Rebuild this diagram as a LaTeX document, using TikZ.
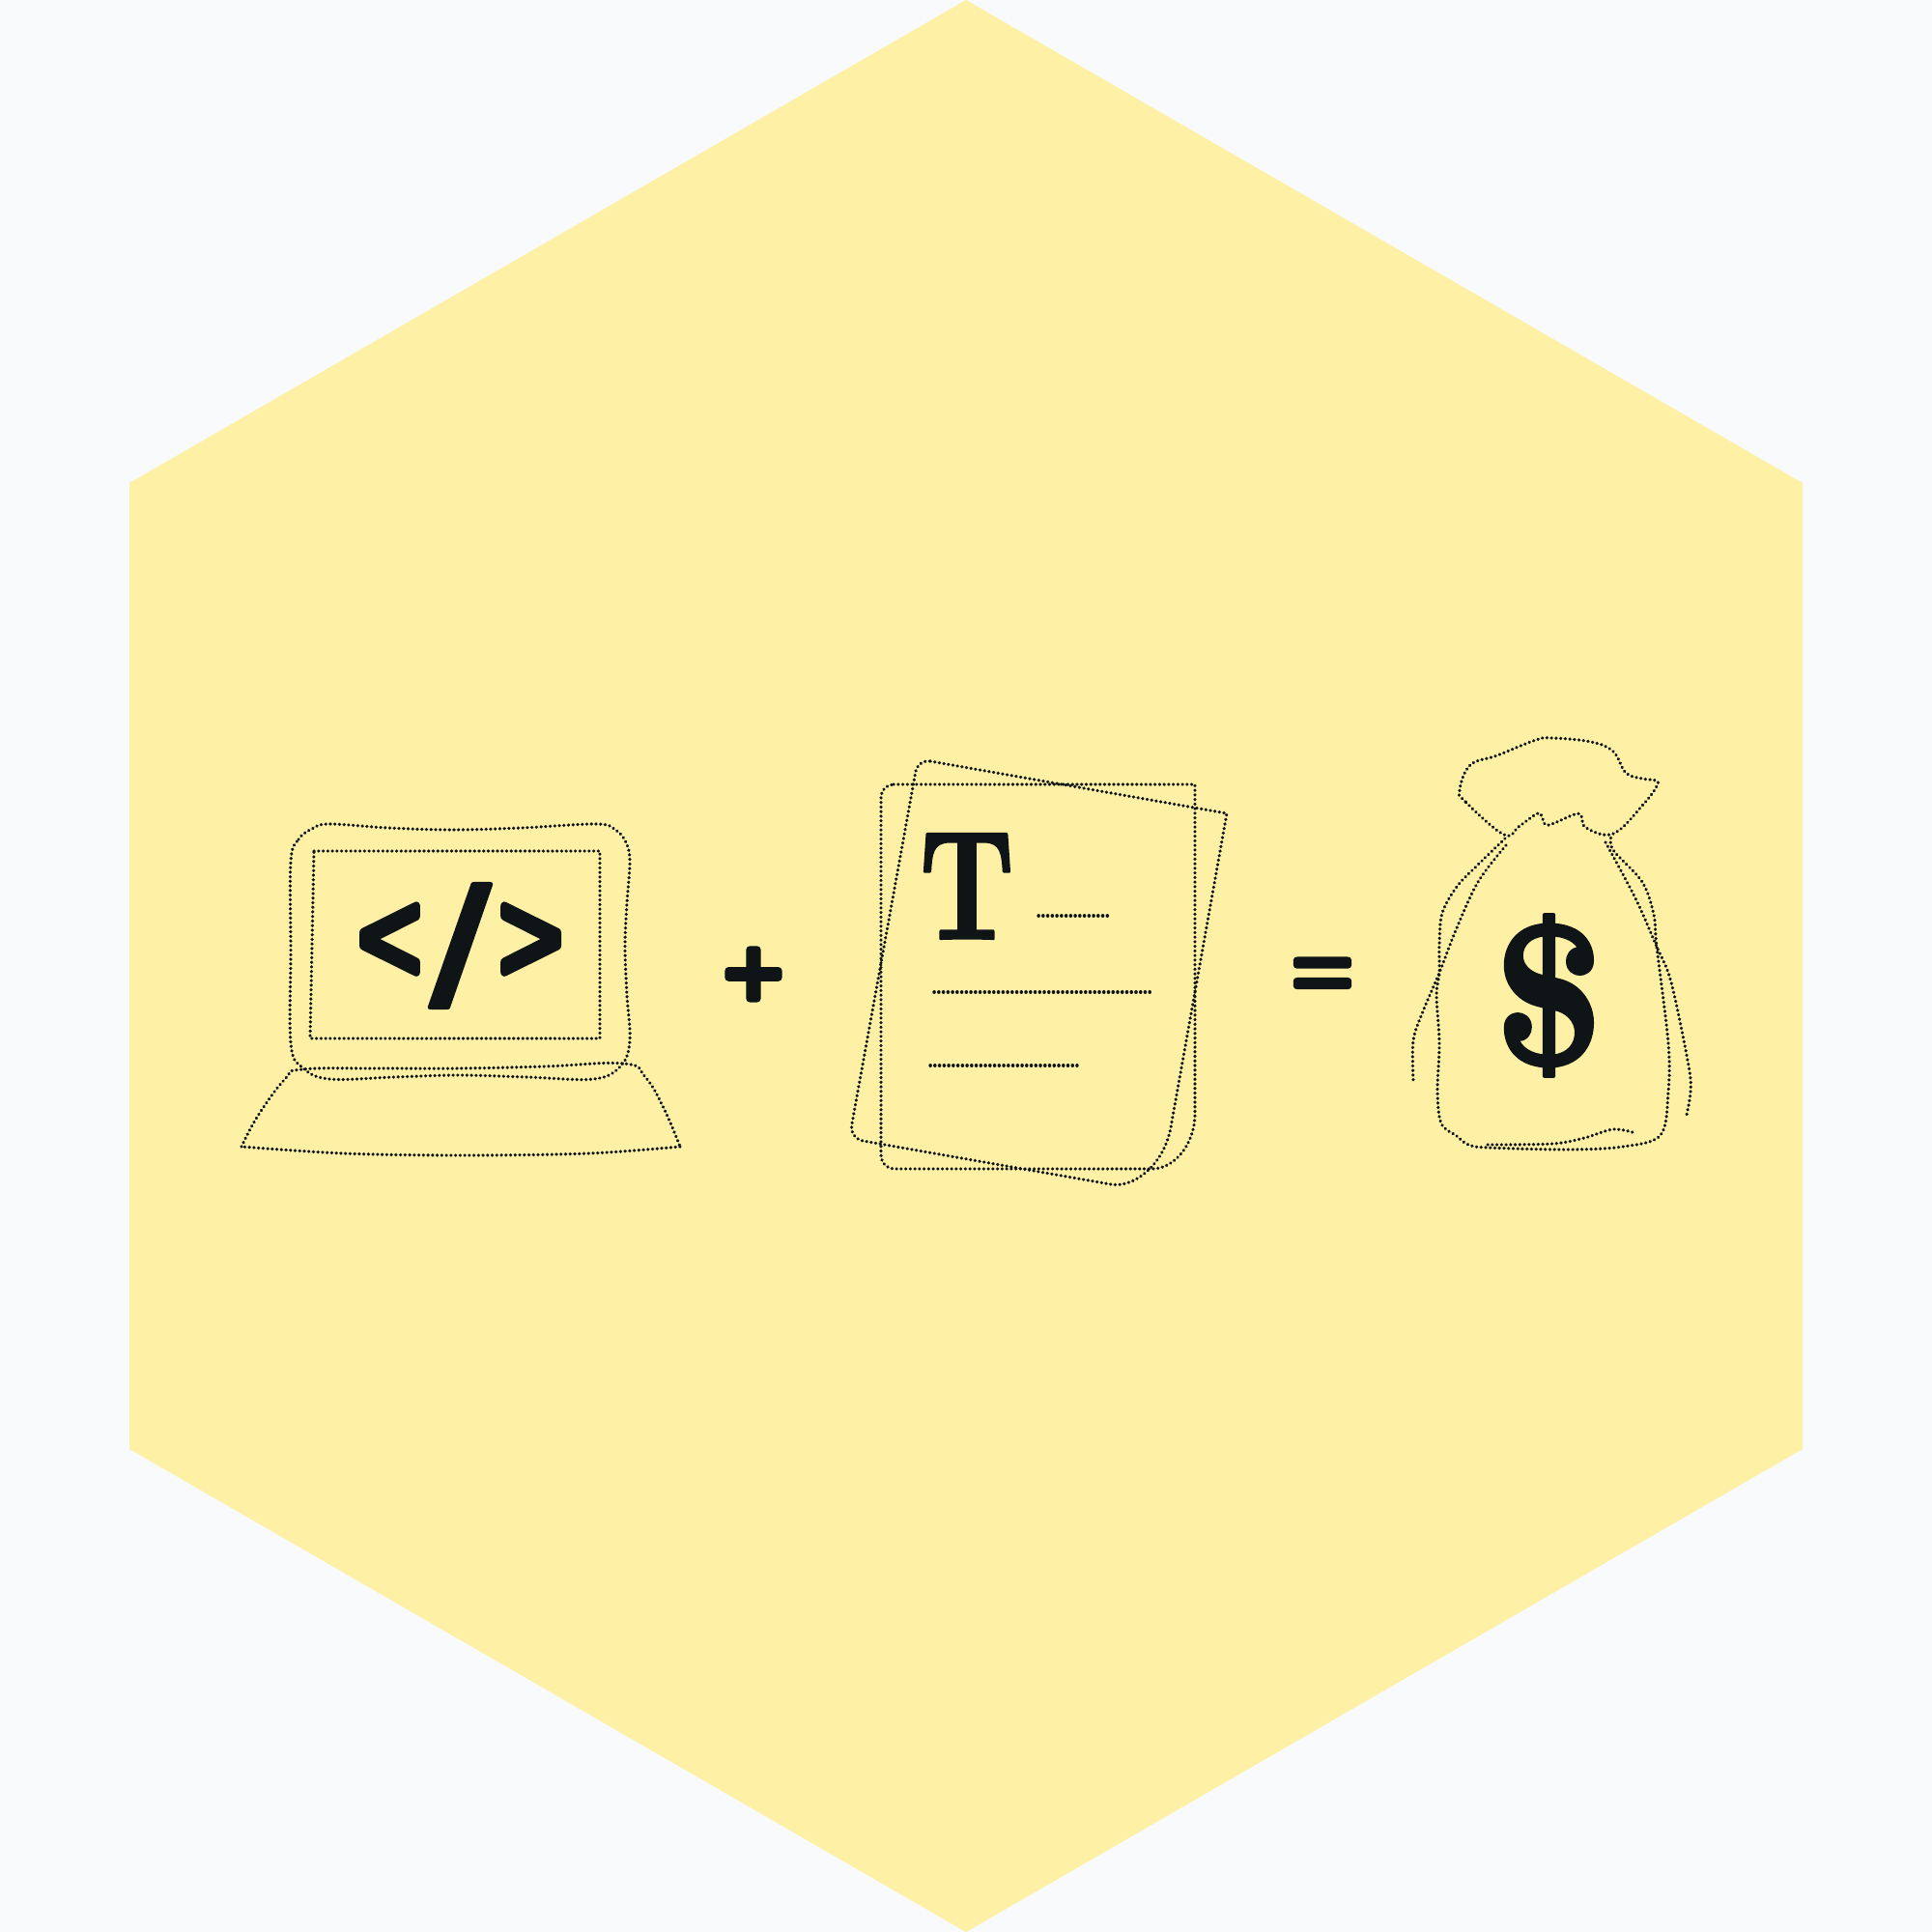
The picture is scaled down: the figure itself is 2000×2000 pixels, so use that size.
\documentclass[tikz,border=0pt]{standalone}
\usepackage{fontspec}
\usepackage{graphicx}
\newfontfamily\symfont[FakeBold=7]{Liberation Sans}
\newfontfamily\slashfont[FakeBold=2.5]{Liberation Sans}
\newfontfamily\serifheavy[FakeBold=2]{Latin Modern Roman}
\definecolor{bgc}{HTML}{F8FAFC}
\definecolor{hexc}{HTML}{FEF0A5}
\definecolor{ink}{HTML}{0F1417}
\tikzset{
  dotline/.style={draw=ink,line width=0.97pt,line cap=round,line join=round,dash pattern=on 0.05pt off 1.3pt},
  glyph/.style={inner sep=0pt,outer sep=0pt,text=ink,line join=round},
}
\begin{document}
\begin{tikzpicture}[x=0.01cm,y=-0.01cm]
\useasboundingbox (0,0) rectangle (2000,2000);
\fill[bgc] (0,0) rectangle (2000,2000);
\fill[hexc] (1000,0) -- (1866,500) -- (1866,1500) -- (1000,2000) -- (134,1500) -- (134,500) -- cycle;
% laptop
\draw[dotline] plot[smooth cycle,tension=0.6] coordinates {(301,892) (309,869) (323,858) (341,853) (402,857) (468,859) (540,857) (617,853) (637,859) (648,872) (652,892) (649,935) (647,980) (649,1030) (652,1077) (643,1103) (615,1117) (546,1115) (475,1113) (408,1115) (341,1117) (313,1105) (301,1080) (301,985)};
\draw[dotline] (325,881) -- (621,881) -- (621,1075) -- (321,1075) -- cycle;
\draw[dotline] plot[smooth,tension=0.7] coordinates {(250,1187) (267,1155) (295,1117) (313,1107) (391,1106) (475,1106) (563,1104) (646,1101) (668,1115) (687,1147) (704,1187)};
\draw[dotline] plot[smooth,tension=0.55] coordinates {(704,1187) (609,1194) (479,1196) (356,1194) (250,1187)};
\node[glyph] (code) at (476.5,979) {\symfont\pgfsetroundjoin\raisebox{0.25cm}[0pt][0pt]{\resizebox{0.66cm}{0.78cm}{<}}\kern0.09cm{\slashfont\resizebox{0.62cm}{1.26cm}{/}}\kern0.09cm\raisebox{0.25cm}[0pt][0pt]{\resizebox{0.66cm}{0.78cm}{>}}};
\node[glyph] (plus) at (780,1013) {\resizebox{0.62cm}{0.6cm}{\pgfsetroundjoin\symfont+}};
% documents
\draw[dotline] (925,812) -- (1237,812) -- (1237,1153) .. controls (1237,1185) and (1215,1210) .. (1193,1210) -- (927,1210) .. controls (918,1210) and (912,1204) .. (912,1195) -- (912,825) .. controls (912,818) and (918,812) .. (925,812) -- cycle;
\draw[dotline] (963,788) -- (1270,842) -- (1212,1167) .. controls (1205,1205) and (1175,1230) .. (1150,1226) -- (893,1181) .. controls (885,1179) and (880,1172) .. (882,1163) -- (948,798) .. controls (950,791) and (956,787) .. (963,788) -- cycle;
\node[glyph] (tee) at (1001,917.5) {\resizebox{0.98cm}{1.08cm}{\pgfsetroundjoin\serifheavy\bfseries T}};
\draw[dotline] (1075,948) -- (1149,948);
\draw[dotline] (967,1027) -- (1193,1027);
\draw[dotline] (963,1103) -- (1115,1103);
\node[glyph] (eq) at (1369,1014.5) {\resizebox{0.63cm}{0.42cm}{\pgfsetroundjoin\symfont=}};
% bag
\draw[dotline] plot[smooth cycle,tension=0.65] coordinates {(1557,864) (1517,830) (1511,818) (1522,792) (1550,782) (1590,766) (1607,764) (1647,768) (1670,778) (1683,800) (1700,806) (1714,808) (1715,814) (1700,834) (1670,863) (1642,857) (1637,845) (1630,843) (1603,854) (1597,848) (1592,842) (1573,855)};
\draw[dotline] plot[smooth,tension=0.55] coordinates {(1558,868) (1527,898) (1508,918) (1493,945) (1490,977) (1490,1007) (1487,1030) (1490,1080) (1488,1130) (1492,1163) (1508,1176) (1520,1185) (1540,1188) (1623,1190) (1680,1187) (1719,1175) (1727,1130) (1727,1080) (1715,980) (1712,947) (1700,913) (1670,880) (1668,865)};
\draw[dotline] plot[smooth,tension=0.55] coordinates {(1559,875) (1530,913) (1507,963) (1490,1007) (1473,1047) (1463,1077) (1463,1118)};
\draw[dotline] plot[smooth,tension=0.55] coordinates {(1662,872) (1693,930) (1715,980) (1730,1017) (1748,1103) (1750,1130) (1746,1154)};
\draw[dotline] plot[smooth,tension=0.55] coordinates {(1540,1185) (1607,1184) (1640,1178) (1670,1169) (1693,1173)};
\node[glyph] (dollar) at (1603.5,1030.5) {\resizebox{1.15cm}{1.55cm}{\pgfsetroundjoin\serifheavy\bfseries\$}};
\end{tikzpicture}
\end{document}
